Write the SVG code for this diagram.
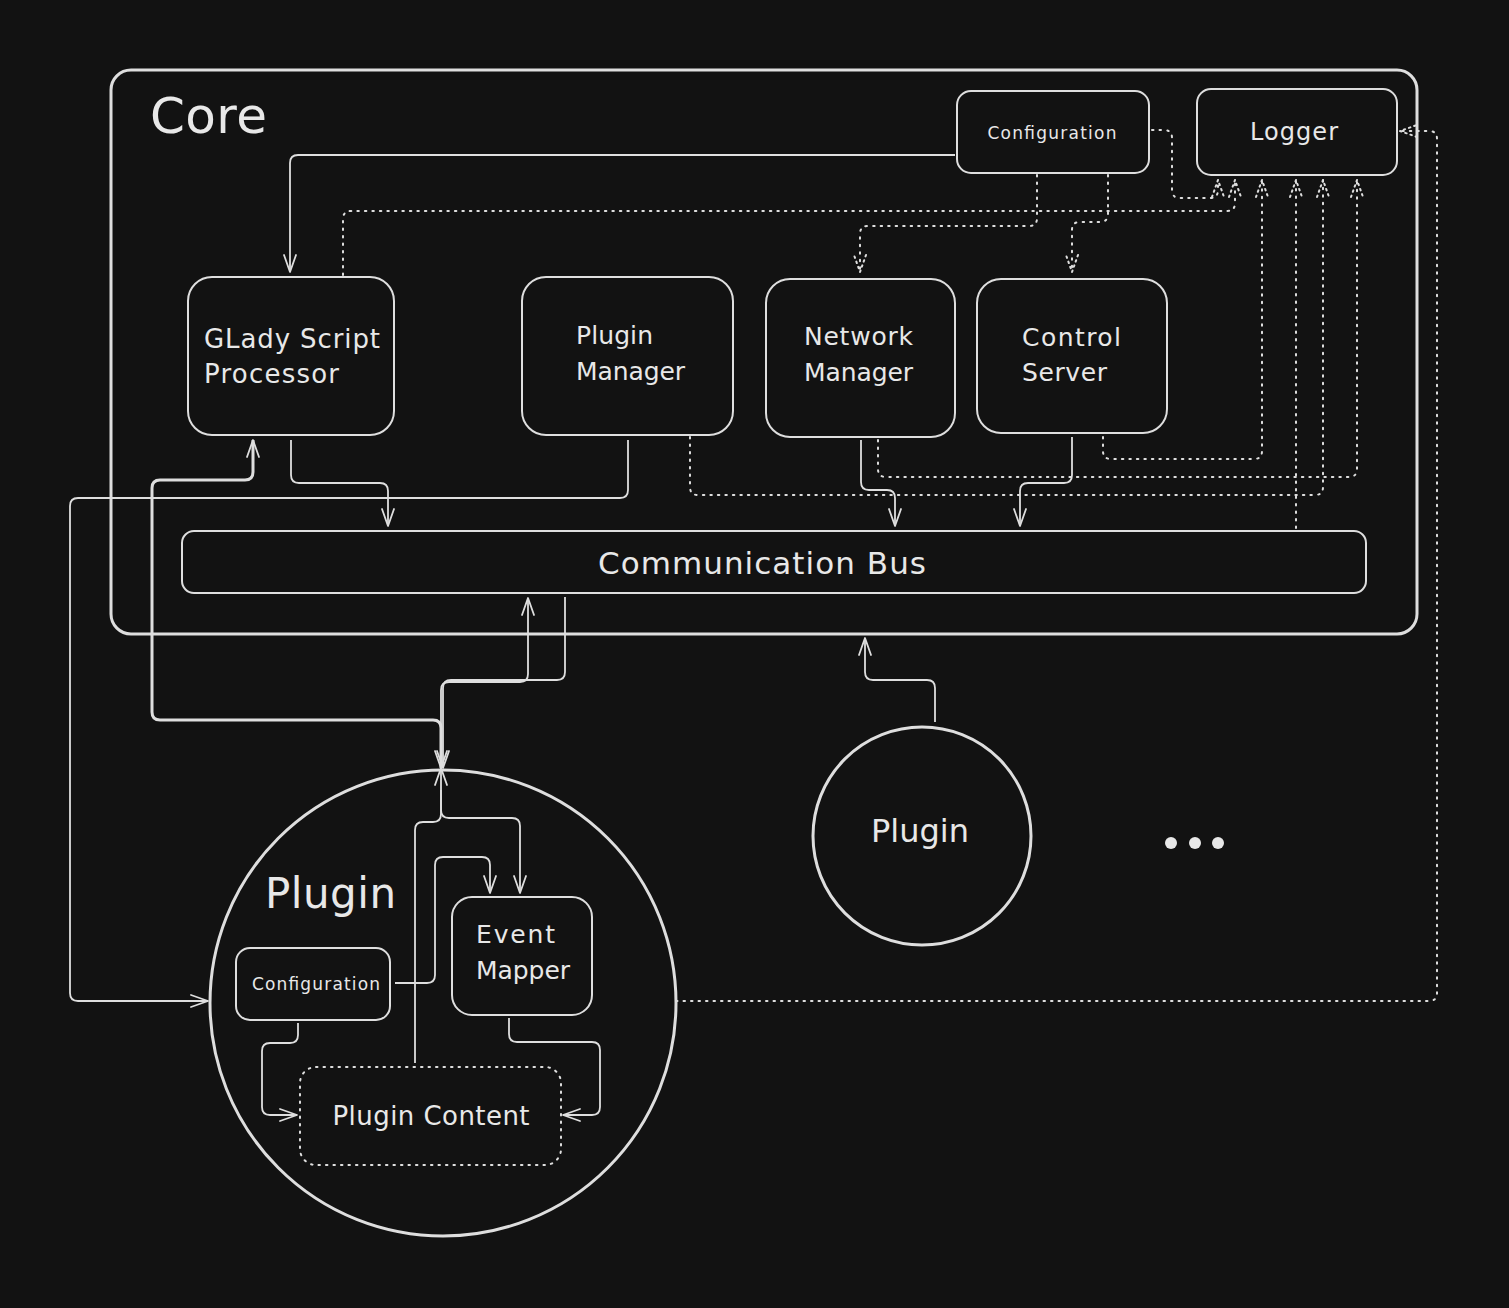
<svg xmlns="http://www.w3.org/2000/svg" width="1509" height="1308" viewBox="0 0 1509 1308">
<style>
.bg{fill:#121212}
.box{fill:#121212;stroke:#dedede;stroke-width:2}
.big{fill:none;stroke:#dedede;stroke-width:3}
.ln{fill:none;stroke:#dedede;stroke-width:1.8;stroke-linejoin:round}
.thick{fill:none;stroke:#dedede;stroke-width:3;stroke-linejoin:round}
.dot{fill:none;stroke:#dedede;stroke-width:2;stroke-dasharray:1.5 6;stroke-linecap:round}
.dotbox{fill:#121212;stroke:#dedede;stroke-width:2;stroke-dasharray:1.5 6;stroke-linecap:round}
text{fill:#e8e8e8;font-family:"DejaVu Sans","Liberation Sans",sans-serif}
</style>
<defs>
<marker id="ah" viewBox="0 0 20 20" refX="19" refY="10" markerWidth="20" markerHeight="20" markerUnits="userSpaceOnUse" orient="auto-start-reverse">
<path d="M2,4 L19,10 L2,16" fill="none" stroke="#dedede" stroke-width="1.8" stroke-linecap="round" stroke-linejoin="round"/>
</marker>
<marker id="ahd" viewBox="0 0 20 20" refX="19" refY="10" markerWidth="20" markerHeight="20" markerUnits="userSpaceOnUse" orient="auto">
<path d="M2,4 L19,10 L2,16" fill="none" stroke="#dedede" stroke-width="2" stroke-dasharray="1.5 4" stroke-linecap="round"/>
</marker>
</defs>
<rect class="bg" x="0" y="0" width="1509" height="1308"/>

<g id="core">
<rect class="big" x="111" y="70" width="1306" height="564" rx="20"/>
<text x="150" y="133" font-size="50" textLength="117">Core</text>
</g>

<g id="core-configuration">
<rect class="box" x="957" y="91" width="192" height="82" rx="14"/>
<text x="1052" y="139" font-size="17" text-anchor="middle" textLength="129">Configuration</text>
</g>
<g id="logger">
<rect class="box" x="1197" y="89" width="200" height="86" rx="14"/>
<text x="1294" y="140" font-size="24" text-anchor="middle" textLength="88">Logger</text>
</g>
<g id="glady">
<rect class="box" x="188" y="277" width="206" height="158" rx="24"/>
<text x="204" y="348" font-size="26" textLength="176">GLady Script</text>
<text x="204" y="383" font-size="26" textLength="135">Processor</text>
</g>
<g id="plugin-manager">
<rect class="box" x="522" y="277" width="211" height="158" rx="24"/>
<text x="576" y="344" font-size="25" textLength="77">Plugin</text>
<text x="576" y="380" font-size="25" textLength="109">Manager</text>
</g>
<g id="network-manager">
<rect class="box" x="766" y="279" width="189" height="158" rx="24"/>
<text x="804" y="345" font-size="25" textLength="109">Network</text>
<text x="804" y="381" font-size="25" textLength="109">Manager</text>
</g>
<g id="control-server">
<rect class="box" x="977" y="279" width="190" height="154" rx="24"/>
<text x="1022" y="346" font-size="25" textLength="99">Control</text>
<text x="1022" y="381" font-size="25" textLength="85">Server</text>
</g>
<g id="bus">
<rect class="box" x="182" y="531" width="1184" height="62" rx="12"/>
<text x="762" y="574" font-size="31" text-anchor="middle" textLength="328">Communication Bus</text>
</g>

<g id="plugin-main">
<circle class="big" cx="443" cy="1003" r="233"/>
<text x="265" y="908" font-size="42" textLength="131">Plugin</text>
</g>
<g id="plugin-configuration">
<rect class="box" x="236" y="948" width="154" height="72" rx="14"/>
<text x="316" y="990" font-size="17" text-anchor="middle" textLength="128">Configuration</text>
</g>
<g id="event-mapper">
<rect class="box" x="452" y="897" width="140" height="118" rx="20"/>
<text x="476" y="943" font-size="25" textLength="79">Event</text>
<text x="476" y="979" font-size="25" textLength="94">Mapper</text>
</g>
<g id="plugin-content">
<rect class="dotbox" x="300" y="1067" width="261" height="98" rx="16"/>
<text x="431" y="1125" font-size="26" text-anchor="middle" textLength="197">Plugin Content</text>
</g>
<g id="plugin-2">
<circle class="big" cx="922" cy="836" r="109"/>
<text x="920" y="842" font-size="32" text-anchor="middle" textLength="98">Plugin</text>
</g>
<g id="more">
<circle cx="1171" cy="843" r="6" fill="#e8e8e8"/>
<circle cx="1195" cy="843" r="6" fill="#e8e8e8"/>
<circle cx="1218" cy="843" r="6" fill="#e8e8e8"/>
</g>

<g id="connectors">
<path class="ln" marker-end="url(#ah)" d="M955,155 L298,155 Q290,155 290,163 L290,272"/>
<path class="ln" marker-end="url(#ah)" d="M291,440 L291,475 Q291,483 299,483 L380,483 Q388,483 388,491 L388,526"/>
<path class="ln" marker-end="url(#ah)" d="M628,440 L628,490 Q628,498 620,498 L78,498 Q70,498 70,506 L70,993 Q70,1001 78,1001 L208,1001"/>
<path class="ln" marker-end="url(#ah)" d="M861,440 L861,482 Q861,490 869,490 L887,490 Q895,490 895,498 L895,526"/>
<path class="ln" marker-end="url(#ah)" d="M1072,437 L1072,475 Q1072,483 1064,483 L1028,483 Q1020,483 1020,491 L1020,526"/>
<path class="ln" marker-end="url(#ah)" d="M565,597 L565,672 Q565,680 557,680 L451,680 Q443,680 443,688 L443,768"/>
<path class="ln" marker-end="url(#ah)" d="M441,768 L441,690 Q441,682 449,682 L520,682 Q528,682 528,674 L528,598"/>
<path class="thick" marker-start="url(#ah)" marker-end="url(#ah)" d="M253,440 L253,472 Q253,480 245,480 L160,480 Q152,480 152,488 L152,712 Q152,720 160,720 L433,720 Q441,720 441,728 L441,768"/>
<path class="ln" marker-end="url(#ah)" d="M415,1063 L415,830 Q415,822 423,822 L433,822 Q441,822 441,814 L441,768"/>
<path class="ln" marker-end="url(#ah)" d="M441,790 L441,810 Q441,818 449,818 L512,818 Q520,818 520,826 L520,893"/>
<path class="ln" marker-end="url(#ah)" d="M395,983 L427,983 Q435,983 435,975 L435,865 Q435,857 443,857 L482,857 Q490,857 490,865 L490,893"/>
<path class="ln" marker-end="url(#ah)" d="M298,1023 L298,1035 Q298,1043 290,1043 L270,1043 Q262,1043 262,1051 L262,1107 Q262,1115 270,1115 L297,1115"/>
<path class="ln" marker-end="url(#ah)" d="M509,1018 L509,1034 Q509,1042 517,1042 L592,1042 Q600,1042 600,1050 L600,1107 Q600,1115 592,1115 L563,1115"/>
<path class="ln" marker-end="url(#ah)" d="M935,722 L935,688 Q935,680 927,680 L873,680 Q865,680 865,672 L865,638"/>

<path class="dot" marker-end="url(#ahd)" d="M1152,130 L1164,130 Q1172,130 1172,138 L1172,190 Q1172,198 1180,198 L1210,198 Q1218,198 1218,190 L1218,180"/>
<path class="dot" marker-end="url(#ahd)" d="M343,275 L343,219 Q343,211 351,211 L1227,211 Q1235,211 1235,203 L1235,180"/>
<path class="dot" marker-end="url(#ahd)" d="M1103,437 L1103,451 Q1103,459 1111,459 L1254,459 Q1262,459 1262,451 L1262,180"/>
<path class="dot" marker-end="url(#ahd)" d="M878,440 L878,469 Q878,477 886,477 L1349,477 Q1357,477 1357,469 L1357,180"/>
<path class="dot" marker-end="url(#ahd)" d="M690,437 L690,487 Q690,495 698,495 L1315,495 Q1323,495 1323,487 L1323,180"/>
<path class="dot" marker-end="url(#ahd)" d="M1296,528 L1296,180"/>
<path class="dot" marker-end="url(#ahd)" d="M1037,175 L1037,218 Q1037,226 1029,226 L868,226 Q860,226 860,234 L860,272"/>
<path class="dot" marker-end="url(#ahd)" d="M1108,175 L1108,214 Q1108,222 1100,222 L1080,222 Q1072,222 1072,230 L1072,272"/>
<path class="dot" marker-end="url(#ahd)" d="M676,1001 L1429,1001 Q1437,1001 1437,993 L1437,139 Q1437,131 1429,131 L1400,131"/>
</g>
</svg>
